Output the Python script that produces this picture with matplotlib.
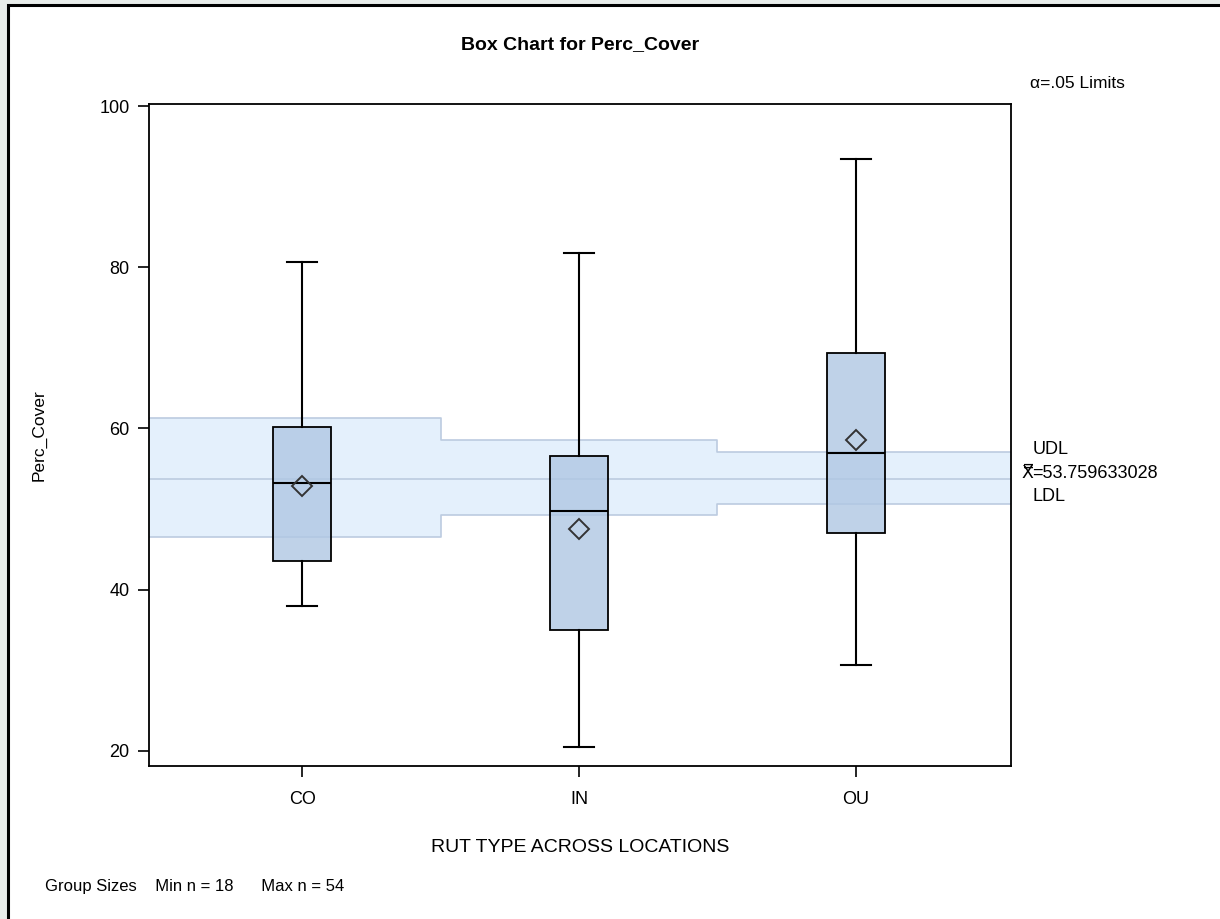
import matplotlib
matplotlib.use("Agg")
from matplotlib import pyplot as plt
from matplotlib.patches import Rectangle

plt.rcParams['font.family'] = ['Liberation Sans', 'DejaVu Sans']

groups = ["CO", "IN", "OU"]
whisk_low = [38.0, 20.5, 30.6]
q1 = [43.6, 35.0, 47.0]
medians = [53.2, 49.7, 57.0]
q3 = [60.2, 56.6, 69.4]
whisk_high = [80.6, 81.7, 93.4]
means = [52.9, 47.5, 58.5]

grand_mean = 53.759633028
udl = [61.3, 58.5, 57.1]
ldl = [46.5, 49.2, 50.6]

fig = plt.figure(figsize=(12.2, 9.19), dpi=100)
fig.patch.set_facecolor("#e8ecea")
# white page with black frame
page = Rectangle((8 / 1220, -0.05), 1.1, 1 - 5 / 919 + 0.05, transform=fig.transFigure,
                 facecolor="white", edgecolor="black", linewidth=2.2, zorder=-5)
fig.patches.append(page)

ax = fig.add_axes([149 / 1220, 1 - 766 / 919, 862 / 1220, 662 / 919])
ax.set_facecolor("white")

# decision limits band, stepped per group
xs = []
ups = []
los = []
for i in range(len(groups)):
    left = -0.6 if i == 0 else i - 0.5
    right = 2.6 if i == len(groups) - 1 else i + 0.5
    xs += [left, right]
    ups += [udl[i], udl[i]]
    los += [ldl[i], ldl[i]]
ax.fill_between(xs, los, ups, color="#e4f0fc", zorder=1, linewidth=0)
ax.plot(xs, ups, color="#bccbe0", lw=1.2, zorder=1.5)
ax.plot(xs, los, color="#bccbe0", lw=1.2, zorder=1.5)
ax.axhline(grand_mean, color="#bccbe0", lw=1.2, zorder=1.5)

stats = []
for i, g in enumerate(groups):
    stats.append({"label": g, "whislo": whisk_low[i], "q1": q1[i], "med": medians[i],
                  "q3": q3[i], "whishi": whisk_high[i], "mean": means[i], "fliers": []})

ax.bxp(stats, positions=range(len(groups)), widths=0.21, capwidths=0.108,
       patch_artist=True, showmeans=True, zorder=3,
       boxprops=dict(facecolor=(0.69, 0.78, 0.89, 0.8), edgecolor="black", linewidth=1.3),
       medianprops=dict(color="black", linewidth=1.5),
       whiskerprops=dict(color="black", linewidth=1.5),
       capprops=dict(color="black", linewidth=1.5),
       meanprops=dict(marker="D", markerfacecolor="none", markeredgecolor="#333333",
                      markersize=10, markeredgewidth=1.4))

ax.set_xlim(-0.553, 2.56)
ax.set_ylim(18.1, 100.25)
ax.set_yticks([20, 40, 60, 80, 100])
ax.set_xticks(range(len(groups)))
ax.set_xticklabels(groups)
ax.tick_params(axis="both", labelsize=13, length=8, width=1.2, colors="black")
ax.tick_params(axis="x", pad=10)
ax.tick_params(axis="y", pad=6)
for s in ax.spines.values():
    s.set_linewidth(1.3)

ax.set_ylabel("Perc_Cover", fontsize=12.5, labelpad=38)
ax.set_xlabel("RUT TYPE ACROSS LOCATIONS", fontsize=14, labelpad=22)

fig.text(580 / 1220, 1 - 45 / 919, "Box Chart for Perc_Cover", fontsize=14, weight="bold",
         ha="center", va="center")
fig.text(1030 / 1220, 1 - 83 / 919, "\u03b1=.05 Limits", fontsize=12.5, ha="left", va="center")
fig.text(1033 / 1220, 1 - 450 / 919, "UDL", fontsize=13, ha="left", va="center")
fig.text(1021 / 1220, 1 - 473 / 919, "X\u033f", fontsize=12.5, ha="left",
         va="center", family=["DejaVu Sans"])
fig.text(1032 / 1220, 1 - 473 / 919, "=53.759633028", fontsize=13, ha="left", va="center")
fig.text(1033 / 1220, 1 - 497 / 919, "LDL", fontsize=13, ha="left", va="center")
fig.text(45 / 1220, 1 - 887 / 919, "Group Sizes    Min n = 18      Max n = 54", fontsize=12,
         ha="left", va="center")

fig.savefig("out.png", dpi=100, facecolor=fig.get_facecolor())
